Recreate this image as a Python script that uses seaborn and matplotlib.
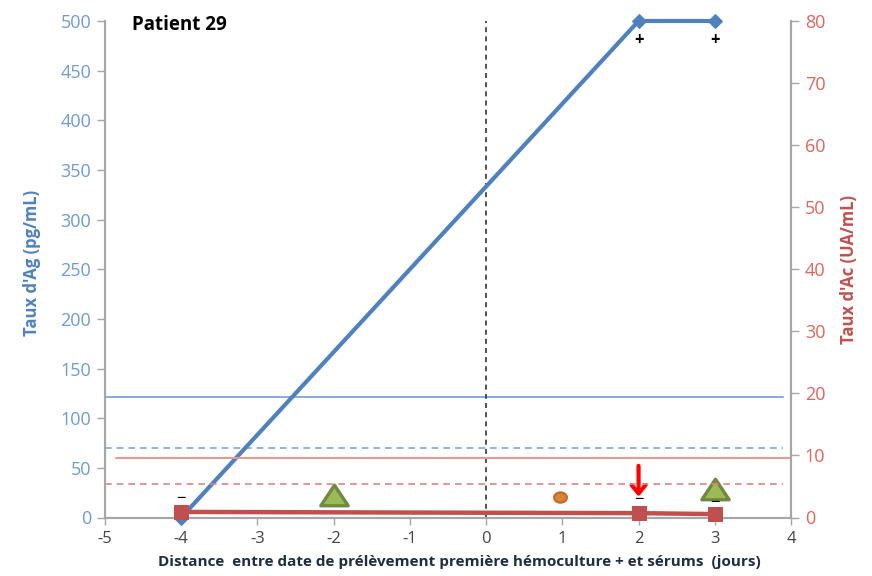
import pandas as pd
import seaborn as sns
import matplotlib.pyplot as plt
from matplotlib.markers import MarkerStyle
from matplotlib.transforms import Affine2D

# values
ag_days = [-4, 2, 3]
ag_values = [0, 500, 500]
ac_days = [-4, 2, 3]
ac_values = [0.9, 0.7, 0.55]

ag_cutoff_solid = 121
ag_cutoff_dash = 70
ac_cutoff_solid = 9.6
ac_cutoff_dash = 5.4

triangle_days = [-2, 3]
triangle_values = [23, 29]
circle_days = [0.97]
circle_values = [20.5]
arrow_day = 2
arrow_tip = 21
arrow_tail = 52

minus_days = [-4, 2, 3]
minus_values = [19, 18, 15]
plus_days = [2, 3]
plus_values = [481, 481]

x_ticks = list(range(-5, 5))
ag_ticks = list(range(0, 501, 50))
ac_ticks = list(range(0, 81, 10))

BLUE = '#4f81bd'
RED = '#c0504d'
GREY = '#a6a6a6'

sns.set_style('white')
plt.rcParams['font.family'] = ['Open Sans', 'DejaVu Sans']
plt.rcParams['axes.unicode_minus'] = False

fig = plt.figure(figsize=(8.72, 5.76), dpi=100)
ax = fig.add_axes([105 / 872, 1 - 517.5 / 576, 686 / 872, 496.5 / 576])
ax2 = ax.twinx()

# thin cutoff lines
ax.plot([-5, 3.9], [ag_cutoff_solid, ag_cutoff_solid], color='#7fa5d6', lw=1.3)
ax.plot([-5, 3.9], [ag_cutoff_dash, ag_cutoff_dash], color='#7fa5d6', lw=1.2, ls=(0, (4, 3)))
ax2.plot([-4.85, 4], [ac_cutoff_solid, ac_cutoff_solid], color='#e39a97', lw=1.5)
ax2.plot([-5, 3.9], [ac_cutoff_dash, ac_cutoff_dash], color='#d98683', lw=1.2, ls=(0, (4, 3)))
ax.axvline(0, color='#333333', lw=1.2, ls=(0, (3, 2.5)))

df_ag = pd.DataFrame({'jours': ag_days, 'ag': ag_values})
df_ac = pd.DataFrame({'jours': ac_days, 'ac': ac_values})
sns.lineplot(data=df_ag, x='jours', y='ag', ax=ax, color=BLUE, lw=3, marker='D', ms=7.5,
             mec=BLUE, clip_on=False, zorder=5)
sns.lineplot(data=df_ac, x='jours', y='ac', ax=ax2, color=RED, lw=3.2, marker='s', ms=9.5,
             mec=RED, clip_on=False, zorder=5)

# event markers
ax.scatter(triangle_days, triangle_values, marker=MarkerStyle('^', transform=Affine2D().scale(1.2, 0.9)),
           s=270, color='#9bbb59', edgecolor='#71893f', linewidth=2.4, zorder=6, clip_on=False)
ax.scatter(circle_days, circle_values, marker=MarkerStyle('o', transform=Affine2D().scale(1.25, 1)),
           s=55, color='#d9843b', edgecolor='#c26a28', linewidth=1.5, zorder=6)
ax.annotate('', xy=(arrow_day, arrow_tip), xytext=(arrow_day, arrow_tail), zorder=7,
            arrowprops=dict(arrowstyle='->,head_width=0.5,head_length=0.6', color='#ff0000', lw=3,
                            shrinkA=0, shrinkB=0))

for d, v in zip(minus_days, minus_values):
    ax.text(d, v, '\u2212', ha='center', va='center', fontsize=12, color='black', zorder=7)
for d, v in zip(plus_days, plus_values):
    ax.text(d, v, '+', ha='center', va='center', fontsize=12, fontweight='bold', color='black', zorder=7)

ax.text(-4.64, 496, 'Patient 29', fontsize=13.5, fontweight='bold', color='black', va='center')

ax.set_xlim(-5, 4)
ax.set_ylim(0, 500)
ax2.set_ylim(0, 80)
ax.set_xticks(x_ticks)
ax.set_yticks(ag_ticks)
ax2.set_yticks(ac_ticks)

ax.set_xlabel('Distance  entre date de pr\u00e9l\u00e8vement premi\u00e8re h\u00e9moculture + et s\u00e9rums  (jours)',
              fontsize=11, fontweight='bold', color='#1f2d3d')
ax.set_ylabel("Taux d'Ag (pg/mL)", fontsize=12, fontweight='bold', color=BLUE)
ax2.set_ylabel("Taux d'Ac (UA/mL)", fontsize=12, fontweight='bold', color=RED)
ax.xaxis.set_label_coords(0.517, -0.076)
ax.yaxis.set_label_coords(-0.094, 0.513)
ax2.yaxis.set_label_coords(1.071, 0.50)

for a in (ax, ax2):
    a.spines['top'].set_visible(False)
    for s in ('left', 'right', 'bottom'):
        a.spines[s].set_color(GREY)
        a.spines[s].set_linewidth(1.5)

ax.tick_params(axis='x', bottom=True, length=5, width=1, color=GREY, labelsize=12, labelcolor='#444444', pad=5)
ax.tick_params(axis='y', left=True, length=6, width=1, color=GREY, labelsize=13, labelcolor='#6f9bd1', pad=4)
ax2.tick_params(axis='y', right=True, length=6, width=1, color=GREY, labelsize=13, labelcolor='#d9675f', pad=4)

fig.savefig('out.png', dpi=100)
